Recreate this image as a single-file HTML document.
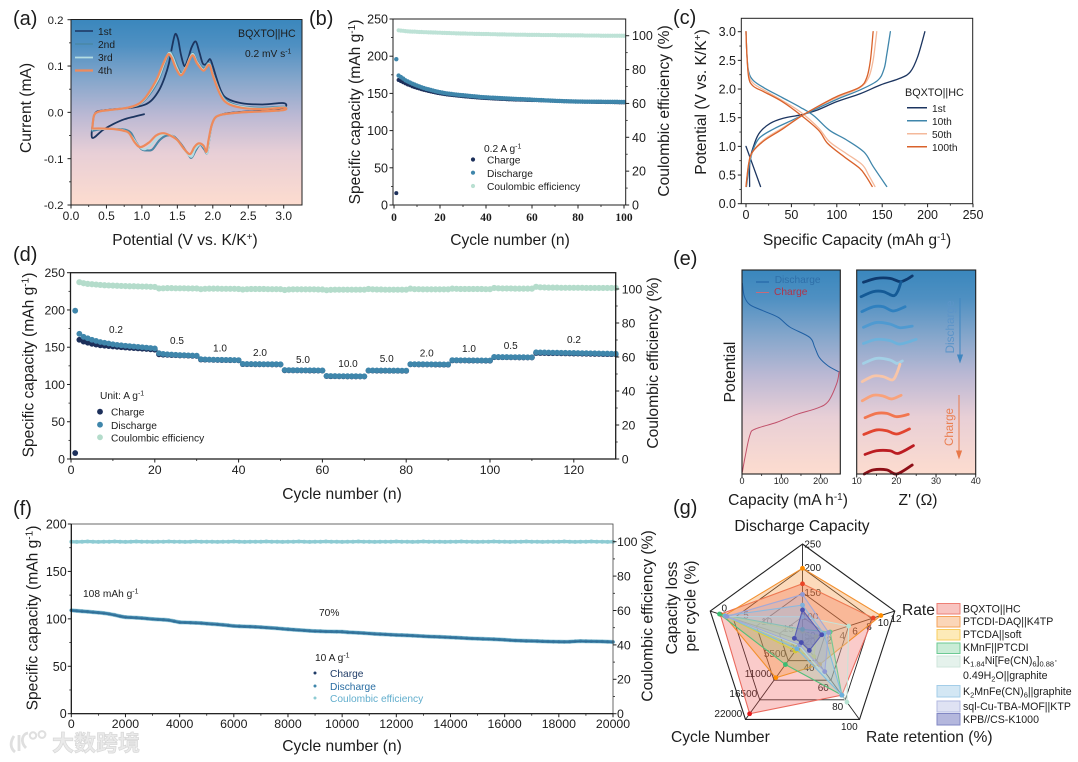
<!DOCTYPE html>
<html lang="en">
<head>
<meta charset="utf-8">
<title>BQXTO||HC electrochemical performance</title>
<style>
html,body{margin:0;padding:0;background:#fff;width:1078px;height:762px;overflow:hidden}
svg{display:block;filter:blur(0.3px)}
text{font-family:"Liberation Sans","Noto Sans CJK SC",sans-serif;fill:#1c1c1c}
.t{font-size:15.6px}
.l{font-size:10.2px}
.p{font-size:20px}
.r{font-size:10px;text-anchor:middle}
.m{text-anchor:middle}
</style>
</head>
<body>
<svg id="fig" xmlns="http://www.w3.org/2000/svg" width="1078" height="762" viewBox="0 0 1078 762">
<defs>
<linearGradient id="bg" x1="0" y1="0" x2="0" y2="1">
<stop offset="0" stop-color="#3a87bd"/><stop offset="0.14" stop-color="#4f90c2"/><stop offset="0.32" stop-color="#84a6cb"/><stop offset="0.52" stop-color="#bcb9d4"/><stop offset="0.72" stop-color="#e8cfd6"/><stop offset="1" stop-color="#fddccf"/>
</linearGradient>
</defs>
<rect width="1078" height="762" fill="#fff"/>

<!-- panel backgrounds -->
<rect x="71" y="19.5" width="231" height="185.5" fill="url(#bg)"/>
<rect x="742" y="270" width="98.3" height="204" fill="url(#bg)"/>
<rect x="856.7" y="270" width="119" height="204" fill="url(#bg)"/>

<!-- panel letters -->
<text class="p" x="13" y="25">(a)</text>
<text class="p" x="309" y="25">(b)</text>
<text class="p" x="673" y="24">(c)</text>
<text class="p" x="13" y="261">(d)</text>
<text class="p" x="673" y="265">(e)</text>
<text class="p" x="13" y="515">(f)</text>
<text class="p" x="673" y="514">(g)</text>

<!-- axis titles -->
<text class="t m" x="185" y="245">Potential (V vs. K/K<tspan dy="-5" font-size="10">+</tspan><tspan dy="5">)</tspan></text>
<text class="t m" transform="translate(31 108) rotate(-90)">Current (mA)</text>
<text class="t m" x="510" y="245">Cycle number (n)</text>
<text class="t m" transform="translate(360 112) rotate(-90)">Specific capacity (mAh g<tspan dy="-5" font-size="10">-1</tspan><tspan dy="5">)</tspan></text>
<text class="t m" transform="translate(669 111) rotate(-90)">Coulombic efficiency (%)</text>
<text class="t m" x="857" y="245">Specific Capacity (mAh g<tspan dy="-5" font-size="10">-1</tspan><tspan dy="5">)</tspan></text>
<text class="t m" transform="translate(706 102) rotate(-90)">Potential (V vs. K/K<tspan dy="-5" font-size="10">+</tspan><tspan dy="5">)</tspan></text>
<text class="t m" x="342" y="499">Cycle number (n)</text>
<text class="t m" transform="translate(33.5 365) rotate(-90)">Specific capacity (mAh g<tspan dy="-5" font-size="10">-1</tspan><tspan dy="5">)</tspan></text>
<text class="t m" transform="translate(658 363) rotate(-90)">Coulombic efficiency (%)</text>
<text class="t m" transform="translate(735 372) rotate(-90)">Potential</text>
<text class="t m" x="788" y="505">Capacity (mA h<tspan dy="-5" font-size="10">-1</tspan><tspan dy="5">)</tspan></text>
<text class="t m" x="918" y="505">Z' (Ω)</text>
<text class="t m" x="342" y="751">Cycle number (n)</text>
<text class="t m" transform="translate(37.5 618) rotate(-90)">Specific capacity (mAh g<tspan dy="-5" font-size="10">-1</tspan><tspan dy="5">)</tspan></text>
<text class="t m" transform="translate(652.5 616) rotate(-90)">Coulombic efficiency (%)</text>

<!-- panel a annotations -->
<text class="l" x="98" y="35">1st</text>
<text class="l" x="98" y="48">2nd</text>
<text class="l" x="98" y="61">3rd</text>
<text class="l" x="98" y="74">4th</text>
<line x1="75" x2="93" y1="31" y2="31" stroke="#1c3560" stroke-width="1.6"/>
<line x1="75" x2="93" y1="44" y2="44" stroke="#4a87a6" stroke-width="1.6"/>
<line x1="75" x2="93" y1="57.5" y2="57.5" stroke="#b4dde2" stroke-width="1.8"/>
<line x1="75" x2="93" y1="70.5" y2="70.5" stroke="#ee8a5c" stroke-width="2.2"/>
<text class="l" x="238" y="37" style="font-size:10.6px">BQXTO||HC</text>
<text class="l" x="245" y="57">0.2 mV s<tspan dy="-3.5" font-size="7">-1</tspan></text>

<!-- panel b legend -->
<text class="l" x="484" y="152">0.2 A g<tspan dy="-3.5" font-size="7">-1</tspan></text>
<circle cx="473" cy="159.5" r="2.1" fill="#1c2f5a"/>
<circle cx="473" cy="172.7" r="2.1" fill="#3f86ab"/>
<circle cx="473" cy="186" r="2.1" fill="#b9e0d2"/>
<text class="l" x="487" y="163.5">Charge</text>
<text class="l" x="487" y="177">Discharge</text>
<text class="l" x="487" y="190">Coulombic efficiency</text>

<!-- panel c legend -->
<text class="l" x="905" y="96" style="font-size:10.8px">BQXTO||HC</text>
<line x1="907" x2="927" y1="107.7" y2="107.7" stroke="#1c3560" stroke-width="1.5"/>
<line x1="907" x2="927" y1="120.7" y2="120.7" stroke="#3f86ab" stroke-width="1.5"/>
<line x1="907" x2="927" y1="133.7" y2="133.7" stroke="#f4b99b" stroke-width="1.5"/>
<line x1="907" x2="927" y1="146.7" y2="146.7" stroke="#d9622b" stroke-width="1.5"/>
<text class="l" x="932" y="112">1st</text>
<text class="l" x="932" y="125">10th</text>
<text class="l" x="932" y="138">50th</text>
<text class="l" x="932" y="151">100th</text>

<!-- panel d annotations -->
<text class="l" x="100" y="399">Unit: A g<tspan dy="-3.5" font-size="7">-1</tspan></text>
<circle cx="100" cy="411.7" r="2.9" fill="#1c2f5a"/>
<circle cx="100" cy="424.7" r="2.9" fill="#3f86ab"/>
<circle cx="100" cy="437.3" r="2.9" fill="#b4dccb"/>
<text class="l" x="111" y="415.5">Charge</text>
<text class="l" x="111" y="429">Discharge</text>
<text class="l" x="111" y="441.5">Coulombic efficiency</text>
<text class="r" x="116" y="333">0.2</text>
<text class="r" x="177" y="344">0.5</text>
<text class="r" x="220" y="351.5">1.0</text>
<text class="r" x="260" y="356">2.0</text>
<text class="r" x="303" y="363">5.0</text>
<text class="r" x="348" y="367">10.0</text>
<text class="r" x="386.7" y="362">5.0</text>
<text class="r" x="426.7" y="356.5">2.0</text>
<text class="r" x="469" y="352">1.0</text>
<text class="r" x="510.7" y="349">0.5</text>
<text class="r" x="574" y="343">0.2</text>

<!-- panel e annotations -->
<line x1="756" x2="769" y1="282" y2="282" stroke="#1e5fa3" stroke-width="1"/>
<line x1="756" x2="769" y1="292.5" y2="292.5" stroke="#c76a7a" stroke-width="1"/>
<text class="l" x="774.7" y="283" style="fill:#2f6fa8">Discharge</text>
<text class="l" x="774" y="295" style="fill:#b0344a">Charge</text>
<text class="l m" transform="translate(954 327) rotate(-90)" style="font-size:11.8px;fill:#5c94c8">Discharge</text>
<text class="l m" transform="translate(953 427) rotate(-90)" style="font-size:11.6px;fill:#ea7f52">Charge</text>
<path d="M960 298V360M957.6 355L960 362L962.4 355Z" stroke="#3f86c0" stroke-width="1" fill="#3f86c0"/>
<path d="M959 395V456M956.6 451L959 458L961.4 451Z" stroke="#e8794a" stroke-width="1" fill="#e8794a"/>

<!-- panel f annotations -->
<text class="l" x="83" y="597">108 mAh g<tspan dy="-3.5" font-size="7">-1</tspan></text>
<text class="l" x="319" y="616">70%</text>
<text class="l" x="315" y="661">10 A g<tspan dy="-3.5" font-size="7">-1</tspan></text>
<circle cx="315" cy="673" r="1.5" fill="#1f3b66"/>
<circle cx="315" cy="686" r="1.5" fill="#3f86ab"/>
<circle cx="315" cy="698" r="1.5" fill="#8dcbd3"/>
<text class="l" x="330" y="677" style="fill:#1f3b66">Charge</text>
<text class="l" x="330" y="690" style="fill:#2a6ea3">Discharge</text>
<text class="l" x="330" y="702" style="fill:#62aecd">Coulombic efficiency</text>

<!-- panel g labels -->
<text class="t m" x="802" y="531">Discharge Capacity</text>
<text class="t" x="902" y="615">Rate</text>
<text class="t" x="866" y="742">Rate retention (%)</text>
<text class="t" x="671" y="742">Cycle Number</text>
<text class="t m" transform="translate(677 608) rotate(-90)">Capacity loss</text>
<text class="t m" transform="translate(695.5 606) rotate(-90)">per cycle (%)</text>

<g id="radar-grid-layer"></g>
<g>
<text class="r" x="812.7" y="547.5">250</text>
<text class="r" x="812.7" y="571">200</text>
<text class="r" x="812.7" y="596">150</text>
<text class="r" x="810" y="620">100</text>
<text class="r" x="810" y="639">50</text>
<text class="r" x="896" y="622">12</text>
<text class="r" x="883.3" y="626">10</text>
<text class="r" x="869" y="630">8</text>
<text class="r" x="855" y="634.5">6</text>
<text class="r" x="842.3" y="639">4</text>
<text class="r" x="829" y="643.5">2</text>
<text class="r" x="849.3" y="730">100</text>
<text class="r" x="837.7" y="710">80</text>
<text class="r" x="823.3" y="691">60</text>
<text class="r" x="809" y="671">40</text>
<text class="r" x="810" y="645">20</text>
<text class="r" x="724.3" y="611.5">0</text>
<text class="r" x="746" y="618.5">5</text>
<text class="r" x="766.7" y="625">10</text>
<text class="r" x="788.3" y="632">15</text>
<text class="r" x="795" y="651.5">20</text>
<text class="r" x="728.3" y="717">22000</text>
<text class="r" x="743.3" y="697">16500</text>
<text class="r" x="758.3" y="677">11000</text>
<text class="r" x="775" y="657">5500</text>
</g>

<!-- panel g legend -->
<g font-size="10.6">
<rect x="937" y="603.5" width="23" height="10.5" fill="#f8c4c0" stroke="#ee7f75"/>
<rect x="937" y="616.5" width="23" height="10.5" fill="#fbd6b8" stroke="#f4a35a"/>
<rect x="937" y="629.5" width="23" height="10.5" fill="#fdeab8" stroke="#f8cc5c"/>
<rect x="937" y="643" width="23" height="10.5" fill="#c9ecd6" stroke="#6cc993"/>
<rect x="937" y="656" width="23" height="11" fill="#e5f2ec" stroke="#cfe5db"/>
<rect x="937" y="685.5" width="23" height="11.5" fill="#d3e7f4" stroke="#a3cde8"/>
<rect x="937" y="701" width="23" height="11" fill="#dfe2f3" stroke="#b3b9e0"/>
<rect x="937" y="713.5" width="23" height="11.5" fill="#b4b7dd" stroke="#8187c4"/>
<text x="963" y="612.5">BQXTO||HC</text>
<text x="963" y="625">PTCDI-DAQ||K4TP</text>
<text x="963" y="638">PTCDA||soft</text>
<text x="963" y="651">KMnF||PTCDI</text>
<text x="963" y="664">K<tspan dy="2.5" font-size="7.5">1.84</tspan><tspan dy="-2.5">Ni[Fe(CN)</tspan><tspan dy="2.5" font-size="7.5">6</tspan><tspan dy="-2.5">]</tspan><tspan dy="2.5" font-size="7.5">0.88</tspan><tspan dy="-2.5">·</tspan></text>
<text x="963" y="679">0.49H<tspan dy="2.5" font-size="7.5">2</tspan><tspan dy="-2.5">O||graphite</tspan></text>
<text x="963" y="695">K<tspan dy="2.5" font-size="7.5">2</tspan><tspan dy="-2.5">MnFe(CN)</tspan><tspan dy="2.5" font-size="7.5">6</tspan><tspan dy="-2.5">||graphite</tspan></text>
<text x="963" y="710">sql-Cu-TBA-MOF||KTP</text>
<text x="963" y="723">KPB//CS-K1000</text>
</g>

<!-- watermark -->
<g>
<path d="M14 736C10 742 10 748 15 752M19 735V751M26 748C20 742 22 734 28 733" fill="none" stroke="#dfdfdf" stroke-width="2.8"/>
<circle cx="33" cy="735.5" r="3.2" fill="none" stroke="#dfdfdf" stroke-width="2"/>
<circle cx="42" cy="734.5" r="3.4" fill="none" stroke="#dfdfdf" stroke-width="2"/>
<text x="52" y="751" font-size="22" font-weight="700" style="fill:#eaeaea;stroke:#d8d8d8;stroke-width:.7">大数跨境</text>
</g>
</svg>

<script>
// ---- panel (a) cyclic voltammetry ----
const aXTicks = ['0.0','0.5','1.0','1.5','2.0','2.5','3.0'];
const aYTicks = ['-0.2','-0.1','0.0','0.1','0.2'];
const cv1V = [1.03,.9,.75,.6,.45,.3,.31,.33,.37,.5,.7,.9,1.05,1.15,1.25,1.32,1.38,1.43,1.47,1.51,1.55,1.6,1.65,1.7,1.76,1.81,1.86,1.91,1.96,2.0,2.05,2.12,2.2,2.4,2.7,3.0,3.0,2.7,2.4,2.2,2.1,2.03,1.98,1.95,1.92,1.88,1.82,1.76,1.7,1.65,1.55,1.45,1.35,1.25,1.15,1.08,1.0,.92,.85];
const cv1I = [-.004,-.009,-.015,-.025,-.038,-.055,-.02,-.005,.002,.005,.008,.011,.017,.028,.05,.075,.105,.145,.169,.158,.125,.1,.115,.14,.153,.13,.105,.105,.115,.1,.075,.045,.03,.02,.017,.02,.01,.004,.001,-.002,-.006,-.012,-.03,-.06,-.088,-.08,-.07,-.082,-.098,-.09,-.068,-.052,-.05,-.06,-.08,-.082,-.08,-.065,-.045];
const cv2V = [.3,.31,.33,.4,.6,.8,.95,1.05,1.17,1.25,1.32,1.39,1.44,1.5,1.56,1.63,1.71,1.78,1.87,1.95,2.0,2.1,2.2,2.4,2.7,3.0,3.0,2.7,2.4,2.2,2.1,2.03,1.98,1.95,1.92,1.88,1.82,1.76,1.7,1.65,1.55,1.45,1.35,1.25,1.15,1.08,1.0,.92,.85,.78,.65,.45,.3];
const cv2I = [-.04,-.02,-.005,.002,.006,.01,.016,.028,.052,.075,.105,.13,.122,.1,.085,.1,.128,.11,.095,.107,.085,.045,.025,.013,.01,.012,.005,.002,0,-.003,-.006,-.012,-.03,-.06,-.088,-.08,-.07,-.082,-.098,-.09,-.068,-.052,-.05,-.06,-.08,-.082,-.08,-.065,-.045,-.038,-.036,-.036,-.04];
const cv3V = [.3,.31,.33,.4,.6,.8,.95,1.05,1.16,1.24,1.31,1.38,1.43,1.49,1.55,1.62,1.71,1.78,1.87,1.95,2.0,2.1,2.2,2.4,2.7,3.0,3.0,2.7,2.4,2.2,2.1,2.03,1.98,1.95,1.92,1.88,1.82,1.75,1.7,1.62,1.52,1.42,1.32,1.22,1.12,1.03,.95,.87,.8,.72,.6,.45,.3];
const cv3I = [-.037,-.02,-.005,.002,.006,.01,.017,.03,.054,.076,.105,.128,.12,.097,.082,.097,.126,.108,.092,.105,.082,.043,.022,.012,.008,.011,.005,.002,0,-.003,-.006,-.012,-.03,-.06,-.088,-.076,-.069,-.08,-.096,-.085,-.064,-.05,-.047,-.055,-.072,-.08,-.072,-.055,-.043,-.038,-.036,-.036,-.036];
const cv4V = [.3,.31,.33,.4,.6,.8,.95,1.05,1.15,1.22,1.3,1.37,1.42,1.48,1.55,1.62,1.71,1.78,1.87,1.95,2.0,2.1,2.2,2.4,2.7,3.0,3.0,2.7,2.4,2.2,2.1,2.03,1.98,1.94,1.91,1.87,1.8,1.74,1.68,1.6,1.5,1.4,1.3,1.2,1.1,.98,.9,.82,.75,.6,.45,.3];
const cv4I = [-.035,-.02,-.005,.002,.006,.01,.018,.032,.055,.075,.105,.125,.118,.095,.08,.095,.123,.105,.09,.103,.08,.04,.02,.01,.007,.01,.005,.002,0,-.003,-.006,-.012,-.03,-.06,-.085,-.072,-.067,-.075,-.09,-.08,-.06,-.05,-.045,-.05,-.065,-.075,-.065,-.045,-.04,-.036,-.035,-.035];

// ---- panel (b) cycling at 0.2 A/g ----
const bXTicks = ['0','20','40','60','80','100'];
const bYTicks = ['0','50','100','150','200','250'];
const bRTicks = ['0','20','40','60','80','100'];
const bCharge = [16,168,166.5,165,163.5,162,161,159.5,158.5,157.5,156.5,155.5,154.8,154,153.2,152.5,151.8,151.2,150.6,150,149.5,149,148.6,148.2,147.8,147.5,147.1,146.8,146.5,146.2,145.9,145.6,145.3,145,144.8,144.5,144.3,144,143.8,143.6,143.4,143.3,143.1,143,142.8,142.6,142.5,142.4,142.2,142,141.9,141.8,141.7,141.6,141.5,141.4,141.3,141.2,141.1,141,141,140.9,140.8,140.7,140.6,140.4,140.3,140.2,140.1,139.9,139.8,139.7,139.6,139.5,139.4,139.3,139.2,139.1,139,138.9,138.9,138.8,138.8,138.7,138.7,138.6,138.6,138.5,138.5,138.4,138.4,138.3,138.3,138.2,138.2,138.1,138.1,138,138,137.9];
const bDischarge = [196,174,172,170,167.5,166,164.5,163,161.8,160.5,159.3,158.2,157.2,156.2,155.4,154.6,153.8,153,152.3,151.7,151.1,150.5,150,149.6,149.2,148.8,148.5,148.1,147.8,147.5,147.2,146.9,146.6,146.3,146,145.7,145.4,145.1,144.9,144.7,144.5,144.3,144.2,144,143.8,143.7,143.5,143.4,143.2,143,142.9,142.7,142.6,142.4,142.3,142.2,142,141.9,141.8,141.6,141.4,141.2,141.1,141,140.8,140.6,140.5,140.4,140.2,140,139.9,139.8,139.7,139.6,139.5,139.4,139.3,139.2,139.1,139,139,139,138.9,138.9,138.9,138.9,138.8,138.8,138.8,138.8,138.7,138.7,138.7,138.6,138.6,138.6,138.6,138.5,138.5,138.5];
const bCE = [null,103.2,103,102.9,102.7,102.6,102.5,102.4,102.4,102.3,102.2,102.2,102.1,102.1,102,102,101.9,101.9,101.8,101.8,101.7,101.7,101.6,101.6,101.5,101.5,101.4,101.4,101.3,101.3,101.3,101.2,101.2,101.2,101.1,101.1,101.1,101,101,101,101,100.9,100.9,100.9,100.8,100.8,100.8,100.8,100.7,100.7,100.7,100.7,100.6,100.6,100.6,100.6,100.6,100.5,100.5,100.5,100.5,100.5,100.5,100.4,100.4,100.4,100.4,100.4,100.4,100.4,100.3,100.3,100.3,100.3,100.3,100.3,100.2,100.2,100.2,100.2,100.2,100.2,100.1,100.1,100.1,100.1,100.1,100.1,100.1,100,100,100,100,100,100,100,100,100,100,100];

// ---- panel (c) voltage profiles: charge then discharge branch ----
const cXTicks = ['0','50','100','150','200','250'];
const cYTicks = ['0.0','0.5','1.0','1.5','2.0','2.5','3.0'];
const c1stCap = [0,16,null,4,4.4,10,15.5,26.5,41,60,78,100,126,148,170,181,189,197];
const c1stV = [1.0,.3,null,.3,.76,1.08,1.25,1.4,1.49,1.55,1.63,1.78,1.92,2.07,2.19,2.3,2.56,3.0];
const c10thCap = [.5,4,8,15,30,50,70,100,125,145,152,155,159,null,0,1,3,8,20,40,60,75,92,110,130,140,155];
const c10thV = [.3,.7,.95,1.15,1.3,1.45,1.6,1.82,1.98,2.15,2.35,2.6,3.0,null,3.0,2.6,2.3,2.15,2.02,1.85,1.68,1.53,1.28,1.12,.9,.65,.3];
const c50thCap = [0,3,8,20,40,60,75,100,125,135,140,144,null,0,1,3,8,20,40,60,80,92,110,128,135,142];
const c50thV = [.3,.7,.92,1.12,1.32,1.52,1.66,1.85,2.02,2.2,2.5,3.0,null,3.0,2.6,2.25,2.1,1.98,1.8,1.6,1.32,1.08,.88,.68,.5,.3];
const c100thCap = [0,3,7,20,40,60,75,100,125,133,137,140,null,0,1,3,8,20,40,60,80,90,108,125,132,139];
const c100thV = [.3,.7,.9,1.1,1.3,1.52,1.66,1.87,2.03,2.2,2.5,3.0,null,3.0,2.6,2.2,2.05,1.95,1.78,1.55,1.28,1.05,.82,.62,.48,.3];

// ---- panel (d) rate capability ----
const dXTicks = ['0','20','40','60','80','100','120'];
const dYTicks = ['0','50','100','150','200','250'];
const dRTicks = ['0','20','40','60','80','100'];
const dCharge = [8,160,157.5,156,154.5,153.5,152.5,152,151.5,151,150.5,150,149.6,149.2,148.8,148.4,148,147.6,147.2,146.6,140.5,140,139.8,139.5,139.3,139,138.9,138.7,138.5,138.3,133.5,133.3,133.2,133,132.9,132.8,132.7,132.6,132.5,132.4,127.3,127.2,127.2,127.1,127.1,127,127,126.9,126.9,126.8,119,119,118.9,118.9,118.8,118.8,118.7,118.7,118.6,118.6,111.2,111,111,110.9,110.9,110.8,110.8,110.8,110.7,110.7,118.6,118.6,118.5,118.5,118.5,118.4,118.4,118.4,118.3,118.3,127,127,126.9,126.9,126.8,126.8,126.7,126.7,126.6,126.6,132.3,132.3,132.2,132.2,132.1,132.1,132,132,131.9,131.9,136.6,136.6,136.5,136.5,136.4,136.4,136.3,136.3,136.2,136.2,142.2,142.2,142.1,142,142,141.9,141.8,141.7,141.6,141.5,141.4,141.3,141.2,141.1,141,140.9,140.8,140.7,140.7,140.6];
const dDischarge = [199,168,164,162,160,158.5,157,156,155,154,153.2,152.6,152,151.5,151,150.5,150,149.5,149,148.4,142,141,140.5,140.2,139.8,139.5,139.3,139.1,138.9,138.7,134,133.7,133.5,133.3,133.2,133.1,133,132.9,132.8,132.7,127.7,127.5,127.5,127.4,127.4,127.3,127.3,127.2,127.2,127.1,119.4,119.3,119.2,119.2,119.1,119.1,119,119,118.9,118.9,111.6,111.4,111.3,111.2,111.2,111.1,111.1,111.1,111,111,118.9,118.9,118.8,118.8,118.8,118.7,118.7,118.7,118.6,118.6,127.3,127.3,127.2,127.2,127.1,127.1,127,127,126.9,126.9,132.7,132.6,132.5,132.5,132.4,132.4,132.3,132.3,132.2,132.2,137,136.9,136.8,136.8,136.7,136.7,136.6,136.6,136.5,136.5,143.2,143.1,143,142.9,142.8,142.7,142.6,142.5,142.4,142.3,142.2,142.1,142,141.9,141.8,141.7,141.6,141.5,141.4,141.3];
const dCE = [null,104,103.4,103,102.8,102.6,102.4,102.2,102.1,102,101.9,101.8,101.7,101.6,101.6,101.5,101.4,101.4,101.3,101.2,100.3,100.4,100.5,100.5,100.4,100.4,100.4,100.3,100.3,100.3,99.9,100.1,100.2,100.2,100.2,100.1,100.1,100.1,100.1,100,99.7,99.9,100,100,100,100,99.9,99.9,99.9,99.9,99.4,99.7,99.8,99.8,99.8,99.8,99.8,99.8,99.7,99.7,99.3,99.5,99.6,99.6,99.6,99.6,99.6,99.6,99.6,99.6,100,99.8,99.7,99.7,99.6,99.6,99.6,99.6,99.6,99.6,100.2,99.9,99.9,99.8,99.8,99.8,99.8,99.8,99.8,99.8,100.2,100.1,100,100,100,100,100,100,99.9,99.9,100.6,100.4,100.3,100.3,100.3,100.2,100.2,100.2,100.2,100.2,101.3,101,100.9,100.8,100.8,100.8,100.7,100.7,100.7,100.7,100.7,100.7,100.6,100.6,100.6,100.6,100.6,100.6,100.6,100.6];

// ---- panel (e) in-situ profile and Nyquist stack ----
const eXTicks = ['0','100','200'];
const eZTicks = ['10','20','30','40'];
const eDisCap = [1,6,20,54,92,122,172,185,197,219,245];
const eDisPot = [93.5,87,83,80,76.8,72,67,62.1,57,53,50.2];
const eChgCap = [1,8,20,33,88,139,190,219,241,247];
const eChgPot = [1,8.5,19,22,25.3,29.2,32.2,35.5,44.4,50.2];
const nyColors = ['#0e3a6e','#145a96','#2f80bf','#4f9ad1','#6cb2dc','#a3d0e6','#f8c5a8','#f9a27a','#f2764f','#e2452f','#bb1c22','#8e0f17'];
const nyZ = [
[11.7,15,18.4,20.9,22.6,24],
[11.1,14.2,16.7,19.2,20.3,21.2],
[11.3,14.2,16.7,19.2,22.2],
[11.7,15,18.4,20.9,24],
[11.7,15,18.4,20.9,25],
[11.7,15,18.4,20.1,21.5],
[11.4,14.2,16.7,19,20.1,20.9],
[11.4,14.2,16.7,18.8,21.2],
[12.1,15,17.6,20.1,23],
[11.8,15,17.6,20.1,23.3],
[12.1,15,18.4,20.5,24.3],
[11.9,14.2,17.6,20.1,24]];
const nyPot = [
[94,95.9,95.9,94.3,95.4,97.1],
[86.9,89.4,89.4,87.4,89.4,94.3],
[79.6,82,82,79.9,82],
[71.9,74.3,73.5,71.7,72.5],
[64,66,65.4,63.7,66],
[54.2,56.7,55.9,54.2,55.4],
[45.3,48,47.7,46.1,49.3,53.8],
[35.9,38.6,38.2,36.8,38.6],
[27.6,29.7,29.7,28.1,29.2],
[19.4,21.6,21.2,19.6,22.1],
[9.6,11.4,11.4,10.1,13.9],
[0,2,2,0,4.4]];

// ---- panel (f) long cycling at 10 A/g ----
const fXTicks = ['0','2000','4000','6000','8000','10000','12000','14000','16000','18000','20000'];
const fYTicks = ['0','50','100','150','200'];
const fRTicks = ['0','20','40','60','80','100'];
const fCycle = [1,200,400,600,800,1000,1200,1400,1600,1800,2000,2200,2400,2600,2800,3000,3200,3400,3600,3800,4000,4200,4400,4600,4800,5000,5200,5400,5600,5800,6000,6200,6400,6600,6800,7000,7200,7400,7600,7800,8000,8200,8400,8600,8800,9000,9200,9400,9600,9800,10000,10200,10400,10600,10800,11000,11200,11400,11600,11800,12000,12200,12400,12600,12800,13000,13200,13400,13600,13800,14000,14200,14400,14600,14800,15000,15200,15400,15600,15800,16000,16200,16400,16600,16800,17000,17200,17400,17600,17800,18000,18200,18400,18600,18800,19000,19200,19400,19600,19800,20000];
const fDischarge = [109,108.5,108,107.6,107.1,106.6,106,105.2,104.1,102.8,101.8,101.5,101.2,100.8,100.3,99.8,99.4,99.1,98.6,97.5,96.4,96.2,96,95.8,95.5,95,94.6,94.2,93.7,93.1,92.5,92.2,92,91.8,91.5,91.2,90.8,90.4,90,89.5,89,88.6,88.2,87.8,87.4,87.1,86.9,86.7,86.6,86.5,86.4,85.9,85.6,85.3,85,84.6,84.2,83.9,83.6,83.3,83,82.8,82.6,82.3,82,81.7,81.4,81.2,81,80.7,80.5,80.2,79.9,79.6,79.3,79.1,78.9,78.7,78.5,78.2,77.9,77.5,77.2,77,76.8,76.7,76.5,76.3,76.1,76,75.9,75.8,75.9,76.3,76.5,76.4,76.3,76.2,76.1,75.9,75.6];
const fCharge = [108.6,108.2,107.6,107.3,106.7,106.2,105.7,104.9,103.7,102.5,101.5,101.1,100.9,100.4,100,99.5,99,98.8,98.2,97.2,96,95.9,95.7,95.4,95.2,94.7,94.2,93.9,93.4,92.7,92.2,91.9,91.6,91.5,91.2,90.8,90.5,90.1,89.6,89.2,88.7,88.2,87.9,87.5,87.1,86.7,86.6,86.4,86.2,86.2,86,85.6,85.3,84.9,84.7,84.3,83.8,83.6,83.3,82.9,82.7,82.5,82.2,82,81.6,81.4,81.1,80.8,80.7,80.3,80.2,79.9,79.5,79.3,79,78.8,78.5,78.4,78.2,77.8,77.6,77.2,76.9,76.7,76.4,76.4,76.2,75.9,75.8,75.7,75.5,75.5,75.6,76,76.2,76,76,75.9,75.7,75.6,75.3];
const fCE = [100,99.9,100,100.1,100,99.9,100,100,100.1,100,99.9,100,100.1,100,100,99.9,100,100,100.1,100,100,99.9,100,100.1,100,100,100,99.9,100,100,100.1,100,99.9,100,100,100,100.1,100,100,99.9,100,100,100.1,100,99.9,100,100,100.1,100,100,99.9,100,100,100.1,100,100,99.9,100,100,100,100.1,100,100,99.9,100,100.1,100,100,100,99.9,100,100,100.1,100,100,99.9,100,100,100.1,100,100,99.9,100,100,100.1,100,100,99.9,100,100,100,100.1,100,99.9,100,100,100.1,100,100,99.9,100];

// ---- panel (g) radar: capacity, rate, retention, cycles, loss per cycle ----
const radarAxes = ['Discharge Capacity','Rate','Rate retention','Cycle Number','Capacity loss'];
const radarMin = [50,0,0,0,25];
const radarMax = [250,12,100,22000,0];
const radarSeriesNames = ['bqxto-hc','ptcdi-daq-k4tp','ptcda-soft','kmnf-ptcdi','k184-graphite','k2mnfe-graphite','sql-cu-ktp','kpb-cs-k1000'];
const radarBqxto = [168,9.2,69,20400,2.7];
const radarPtcdi = [200,10.2,30,10300,3.8];
const radarPtcda = [70,1.8,20,2800,3.75];
const radarKmnf = [74,3.6,69,6600,2.5];
const radarK184 = [100,6,78,1300,4.5];
const radarK2mnfe = [124,2.8,69,2200,4];
const radarSql = [146,3.4,39,1100,4.5];
const radarKpb = [114,2.5,12,440,22.8];
const radarValues = [radarBqxto,radarPtcdi,radarPtcda,radarKmnf,radarK184,radarK2mnfe,radarSql,radarKpb];

const NS = 'http://www.w3.org/2000/svg';
const fig = document.getElementById('fig');
function mk(tag, attrs, name, parent) {
  const e = document.createElementNS(NS, tag);
  for (const k in attrs) e.setAttribute(k, attrs[k]);
  
  
  (parent || fig).appendChild(e);
  return e;
}
function scale(d0, d1, r0, r1) { return v => r0 + (v - d0) / (d1 - d0) * (r1 - r0); }
function smooth(pts) {
  let d = '';
  let seg = [];
  const flush = () => {
    if (!seg.length) return;
    d += 'M' + seg[0].join(' ');
    for (let i = 0; i < seg.length - 1; i++) {
      const p0 = seg[Math.max(i - 1, 0)], p1 = seg[i], p2 = seg[i + 1], p3 = seg[Math.min(i + 2, seg.length - 1)];
      const c1x = p1[0] + (p2[0] - p0[0]) / 6, c1y = p1[1] + (p2[1] - p0[1]) / 6;
      const c2x = p2[0] - (p3[0] - p1[0]) / 6, c2y = p2[1] - (p3[1] - p1[1]) / 6;
      d += 'C' + [c1x, c1y, c2x, c2y, p2[0], p2[1]].map(n => n.toFixed(2)).join(' ');
    }
    seg = [];
  };
  pts.forEach(p => { if (p[0] === null || p[1] === null || isNaN(p[0]) || isNaN(p[1])) flush(); else seg.push(p); });
  flush();
  return d;
}
function curve(xs, ys, sx, sy, color, width, name, parent) {
  const pts = xs.map((x, i) => (x === null || ys[i] === null) ? [null, null] : [sx(x), sy(ys[i])]);
  return mk('path', { d: smooth(pts), fill: 'none', stroke: color, 'stroke-width': width, 'stroke-linejoin': 'round', 'stroke-linecap': 'round' }, name, parent);
}
function dots(xs, ys, sx, sy, color, r, name) {
  const g = mk('g', { fill: color }, name + '-series');
  ys.forEach((v, i) => {
    if (v === null) return;
    mk('circle', { cx: sx(xs ? xs[i] : i + 1).toFixed(2), cy: sy(v).toFixed(2), r: r }, name + '-point', g);
  });
  return g;
}
function frame(x0, y0, x1, y1, w, name) {
  mk('rect', { x: x0, y: y0, width: x1 - x0, height: y1 - y0, fill: 'none', stroke: '#1f1f1f', 'stroke-width': w }, name);
}
function xAxis(labels, sx, yAxisLine, yText, fs, name, opts) {
  opts = opts || {};
  const g = mk('g', {}, name);
  const vals = labels.map(parseFloat);
  vals.forEach((v, i) => {
    mk('line', { x1: sx(v), x2: sx(v), y1: yAxisLine, y2: yAxisLine + 3.5, stroke: '#1f1f1f', 'stroke-width': 1 }, name + '-tick', g);
    if (i < vals.length - 1) {
      const m = (v + vals[i + 1]) / 2;
      mk('line', { x1: sx(m), x2: sx(m), y1: yAxisLine, y2: yAxisLine + 2, stroke: '#1f1f1f', 'stroke-width': .8 }, name + '-minor-tick', g);
    }
    const t = mk('text', { x: sx(v), y: yText, 'text-anchor': 'middle', 'font-size': fs }, name + '-label', g);
    if (opts.serif) { t.setAttribute('style', 'font-family:"Liberation Serif",serif;font-weight:700'); }
    t.textContent = labels[i];
  });
}
function yAxis(labels, sy, xAxisLine, xText, fs, name, side) {
  const g = mk('g', {}, name);
  const dir = side === 'right' ? 1 : -1;
  const vals = labels.map(parseFloat);
  vals.forEach((v, i) => {
    mk('line', { x1: xAxisLine, x2: xAxisLine + dir * 3.5, y1: sy(v), y2: sy(v), stroke: '#1f1f1f', 'stroke-width': 1 }, name + '-tick', g);
    if (i < vals.length - 1) {
      const m = (v + vals[i + 1]) / 2;
      mk('line', { x1: xAxisLine, x2: xAxisLine + dir * 2, y1: sy(m), y2: sy(m), stroke: '#1f1f1f', 'stroke-width': .8 }, name + '-minor-tick', g);
    }
    const t = mk('text', { x: xText, y: sy(v) + fs * .36, 'text-anchor': side === 'right' ? 'start' : 'end', 'font-size': fs }, name + '-label', g);
    t.textContent = labels[i];
  });
}

// Panel (a)
const ax = scale(0, 3, 71, 283.7), ay = scale(-0.2, 0.2, 205, 19.7);
curve(cv1V, cv1I, ax, ay, '#1c3560', 1.8, 'cv-curve-1st');
curve(cv2V, cv2I, ax, ay, '#4a87a6', 2, 'cv-curve-2nd');
curve(cv3V, cv3I, ax, ay, '#b4dde2', 2, 'cv-curve-3rd');
curve(cv4V, cv4I, ax, ay, '#ee8a5c', 2.2, 'cv-curve-4th');
frame(71, 19.5, 302, 205, 1, 'a-plot-frame');
xAxis(aXTicks, ax, 205, 220, 12, 'a-x-axis');
yAxis(aYTicks, ay, 71, 63.5, 11.4, 'a-y-axis');

// Panel (b)
const bx = scale(0, 100, 394, 624), by = scale(0, 250, 205, 19), byr = scale(0, 110, 205, 18.8);
dots(null, bCE, bx, byr, '#bde2d6', 2.1, 'b-coulombic-efficiency');
dots(null, bCharge, bx, by, '#1c2f5a', 2, 'b-charge');
dots(null, bDischarge, bx, by, '#3f86ab', 2.2, 'b-discharge');
frame(393, 19, 625.7, 205, 1, 'b-plot-frame');
xAxis(bXTicks, bx, 205, 221, 11.5, 'b-x-axis', { serif: true });
yAxis(bYTicks, by, 393, 388, 12.5, 'b-y-axis');
yAxis(bRTicks, byr, 625.7, 632, 12.5, 'b-right-axis', 'right');

// Panel (c)
const cx = scale(0, 250, 746, 973), cy = scale(0, 3, 203.7, 31.7);
curve(c1stCap, c1stV, cx, cy, '#1c3560', 1.3, 'c-curve-1st');
curve(c10thCap, c10thV, cx, cy, '#3f86ab', 1.3, 'c-curve-10th');
curve(c50thCap, c50thV, cx, cy, '#f4b99b', 1.3, 'c-curve-50th');
curve(c100thCap, c100thV, cx, cy, '#d9622b', 1.3, 'c-curve-100th');
frame(741.3, 18.3, 972.7, 203.7, 1, 'c-plot-frame');
xAxis(cXTicks, cx, 203.7, 219, 12.5, 'c-x-axis');
yAxis(cYTicks, cy, 741.3, 736, 12.5, 'c-y-axis');

// Panel (d)
const dx = scale(0, 130, 71, 615.7), dy = scale(0, 250, 459, 272.7), dyr = scale(0, 110, 459, 272);
dots(null, dCE, dx, dyr, '#b4dccb', 3.1, 'd-coulombic-efficiency');
dots(null, dCharge, dx, dy, '#1c2f5a', 2.9, 'd-charge');
dots(null, dDischarge, dx, dy, '#3f86ab', 2.9, 'd-discharge');
frame(70.5, 272.7, 615.7, 459, 1.3, 'd-plot-frame');
xAxis(dXTicks, dx, 459, 474, 12.3, 'd-x-axis');
yAxis(dYTicks, dy, 70.5, 65, 12.3, 'd-y-axis');
yAxis(dRTicks, dyr, 615.7, 621.7, 12.3, 'd-right-axis', 'right');

// Panel (e)
const exc = scale(0, 250, 742, 840.3), eyp = scale(0, 100, 474, 270);
curve(eDisCap, eDisPot, exc, eyp, '#1e5fa3', 1, 'e-discharge-curve');
curve(eChgCap, eChgPot, exc, eyp, '#c0506a', 1, 'e-charge-curve');
frame(742, 270, 840.3, 474, 1.1, 'e-left-frame');
xAxis(eXTicks, exc, 474, 484, 9, 'e-left-x-axis');
const ezx = scale(10, 40, 856.7, 975.7);
nyZ.forEach((zs, i) => { curve(zs, nyPot[i], ezx, eyp, nyColors[i], 2.8, 'nyquist-curve-' + (i + 1)); });
frame(856.7, 270, 975.7, 474, 1.1, 'e-right-frame');
xAxis(eZTicks, ezx, 474, 484, 9, 'e-right-x-axis');

// Panel (f)
const fx = scale(0, 20000, 71.3, 613), fy = scale(0, 200, 713.7, 524), fyr = scale(0, 110, 713.7, 524.5);
curve(fCycle, fCE, fx, fyr, '#8dcbd3', 3.2, 'f-coulombic-efficiency-line');
dots(fCycle, fCE, fx, fyr, '#8dcbd3', 2, 'f-coulombic-efficiency');
curve(fCycle, fDischarge, fx, fy, '#a9d3e0', 4.2, 'f-discharge-halo');
curve(fCycle, fDischarge, fx, fy, '#3f86ab', 3, 'f-discharge-line');
dots(fCycle, fDischarge, fx, fy, '#3b7fa5', 1.6, 'f-discharge');
curve(fCycle, fCharge, fx, fy, '#2f6a94', 1, 'f-charge-line');
mk('rect', { x: 71.3, y: 524, width: 541.7, height: 189.7, fill: 'none', stroke: '#444', 'stroke-width': .8 }, 'f-plot-frame');
mk('line', { x1: 71.3, x2: 613, y1: 713.7, y2: 713.7, stroke: '#111', 'stroke-width': 1.2 }, 'f-x-axis-line');
mk('line', { x1: 71.3, x2: 71.3, y1: 524, y2: 713.7, stroke: '#111', 'stroke-width': 1.2 }, 'f-y-axis-line');
xAxis(fXTicks, fx, 713.7, 728, 12.3, 'f-x-axis');
yAxis(fYTicks, fy, 71.3, 66.7, 12.5, 'f-y-axis');
yAxis(fRTicks, fyr, 613, 617, 12.3, 'f-right-axis', 'right');

// Panel (g)
const RCX = 802.5, RCY = 641, RR = 97;
const radarAngle = i => -Math.PI / 2 + i * 2 * Math.PI / radarAxes.length;
const radarPoint = (axis, frac) => [RCX + RR * frac * Math.cos(radarAngle(axis)), RCY + RR * frac * Math.sin(radarAngle(axis))];
const radarScale = (axis, v) => (v - radarMin[axis]) / (radarMax[axis] - radarMin[axis]);
const gridLayer = document.getElementById('radar-grid-layer');
[.25, .5, .75, 1].forEach(f => {
  const pts = radarAxes.map((_, i) => radarPoint(i, f).join(',')).join(' ');
  mk('polygon', { points: pts, fill: 'none', stroke: '#222', 'stroke-width': f === 1 ? 1.1 : .9 }, 'radar-ring', gridLayer);
});
radarAxes.forEach((_, i) => {
  const p = radarPoint(i, 1);
  mk('line', { x1: RCX, y1: RCY, x2: p[0], y2: p[1], stroke: '#222', 'stroke-width': .9 }, 'radar-spoke', gridLayer);
});
const radarStroke = ['#ea6a5e','#f2902f','#f4d13c','#52bf7a','#c7e3d8','#7fbde0','#a2a9d9','#5b5fb3'];
const radarFill = ['#ef5350','#f5963c','#f8d84a','#5cc487','#cfe8dd','#8ac4e4','#a9afdd','#6367bc'];
const radarDot = ['#e41a1c','#ff8c00','#f2c81e','#3cbc72','#b6e2d2','#6cb0dc','#8e98d4','#4a4fb0'];
const radarOpacity = [.3,.35,.4,.22,.25,.25,.3,.45];
radarValues.forEach((vals, s) => {
  const pts = vals.map((v, a) => radarPoint(a, radarScale(a, v)));
  mk('polygon', { points: pts.map(p => p.join(',')).join(' '), fill: radarFill[s], 'fill-opacity': radarOpacity[s], stroke: radarStroke[s], 'stroke-width': 1.1 }, 'radar-series-' + radarSeriesNames[s]);
  pts.forEach(p => {
    mk('circle', { cx: p[0], cy: p[1], r: 2.4, fill: radarDot[s] }, 'radar-point-' + radarSeriesNames[s]);
  });
});
</script>
</body>
</html>
